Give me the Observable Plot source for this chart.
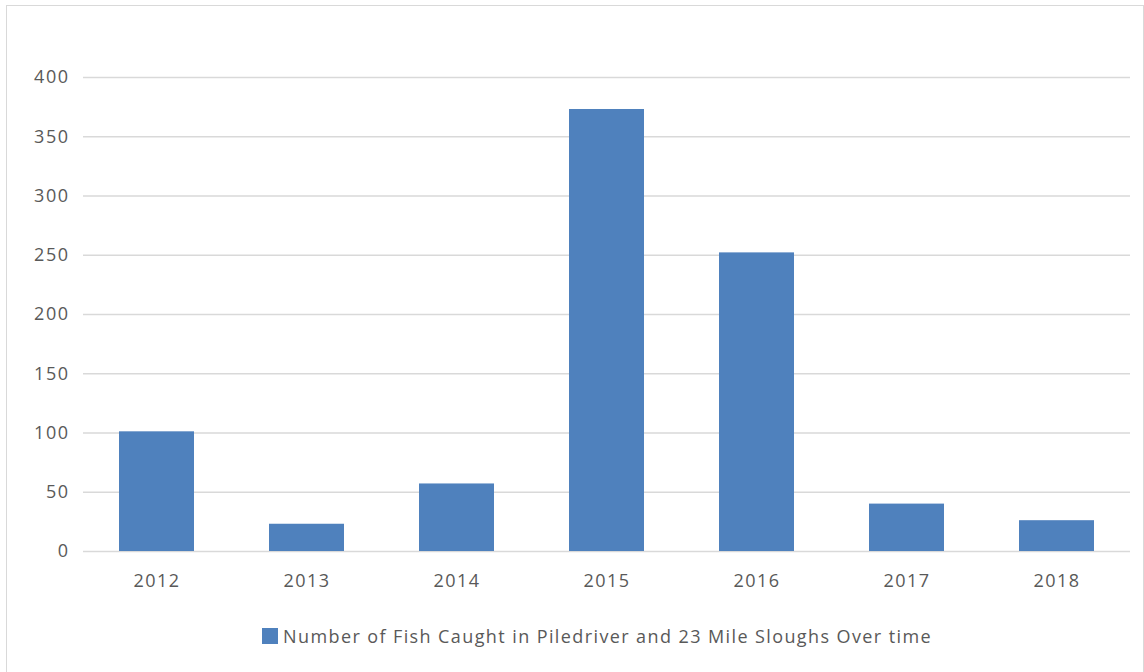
<!DOCTYPE html>
<html>
<head>
<meta charset="utf-8">
<script src="https://cdn.jsdelivr.net/npm/d3@7"></script>
<script src="https://cdn.jsdelivr.net/npm/@observablehq/plot@0.6"></script>
<style>
  html, body { margin: 0; padding: 0; background: #fff; }
  #frame {
    position: absolute; left: 6px; top: 5px;
    width: 1138px; height: 668px;
    border: 1px solid #d9d9d9; box-sizing: border-box;
    font-family: "Open Sans", sans-serif;
  }
  #legend {
    display: flex; align-items: center; justify-content: center;
    font-size: 18px; letter-spacing: 1.4px; color: #595959; margin-top: 18px;
    padding-left: 44px;
  }
  #legend .sw { width: 16px; height: 16px; background: #4f81bd; margin-right: 5px; }
  #chart svg text { letter-spacing: 1.5px; }
</style>
</head>
<body>
<div id="frame">
  <div id="chart"></div>
  <div id="legend"><span class="sw"></span><span id="legendText"></span></div>
</div>
<script>
const years = ["2012", "2013", "2014", "2015", "2016", "2017", "2018"];
const fishCaught = [101, 23, 57, 373, 252, 40, 26];
const yTicks = [0, 50, 100, 150, 200, 250, 300, 350, 400];
const seriesName = "Number of Fish Caught in Piledriver and 23 Mile Sloughs Over time";

const data = years.map((y, i) => ({year: y, value: fishCaught[i]}));

const chart = Plot.plot({
  width: 1136,
  height: 600,
  marginLeft: 76,
  marginRight: 13,
  marginTop: 71,
  marginBottom: 55,
  style: {fontFamily: "Open Sans, sans-serif", fontSize: "18px", color: "#595959", background: "#fff"},
  x: {domain: years, paddingInner: 0.5, paddingOuter: 0.24, label: null},
  y: {domain: [0, 400], label: null},
  marks: [
    Plot.ruleY(yTicks, {stroke: "#d9d9d9", strokeWidth: 1.5}),
    Plot.barY(data, {x: "year", y: "value", fill: "#4f81bd"}),
    Plot.axisX({tickSize: 0, tickPadding: 23, label: null}),
    Plot.axisY({ticks: yTicks, tickSize: 0, tickPadding: 14, label: null})
  ]
});
document.getElementById("chart").appendChild(chart);
document.getElementById("legendText").textContent = seriesName;
</script>
</body>
</html>
